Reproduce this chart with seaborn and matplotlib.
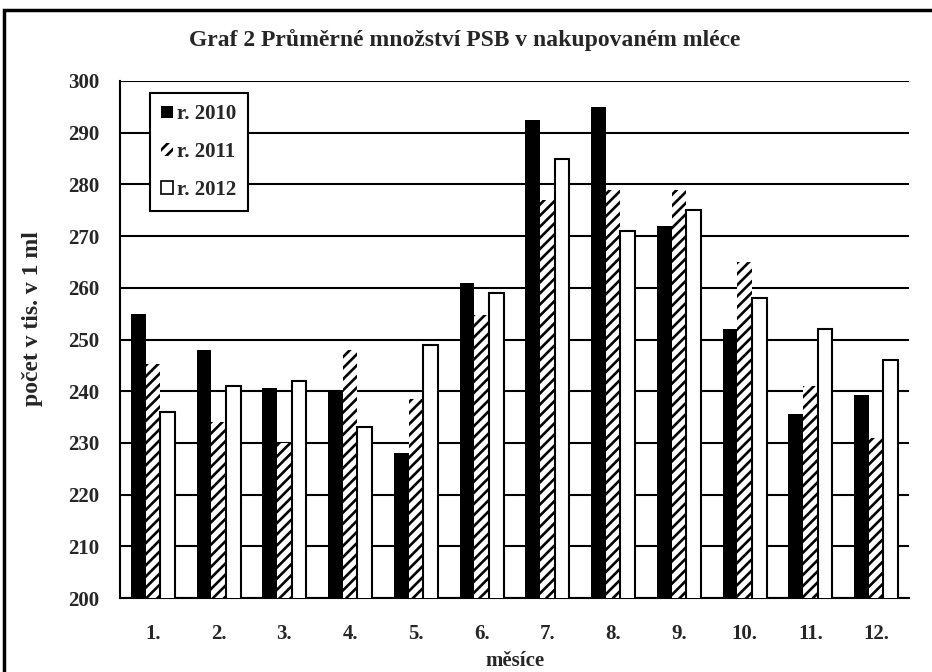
import matplotlib
matplotlib.use("Agg")
import matplotlib.pyplot as plt
from matplotlib.patches import Patch, Rectangle
import seaborn as sns
import pandas as pd

months = ["1.", "2.", "3.", "4.", "5.", "6.", "7.", "8.", "9.", "10.", "11.", "12."]
years = ["r. 2010", "r. 2011", "r. 2012"]
y2010 = [255, 248, 240.6, 240, 228, 261, 292.5, 295, 272, 252, 235.6, 239.3]
y2011 = [245.3, 234, 230, 248, 238.4, 254.7, 277, 279, 279, 265, 241, 231]
y2012 = [236, 241, 242, 233, 249, 259, 285, 271, 275, 258, 252, 246]
yticks = list(range(200, 301, 10))

title = "Graf 2 Průměrné množství PSB v nakupovaném mléce"
ylabel = "počet v tis. v 1 ml"
xlabel = "měsíce"

rows = []
for yr, vals in zip(years, [y2010, y2011, y2012]):
    for m, v in zip(months, vals):
        rows.append({"month": m, "value": v, "year": yr})
df = pd.DataFrame(rows)

sns.set_style("white")
plt.rcParams["font.family"] = ["Liberation Serif", "DejaVu Serif"]
plt.rcParams["font.weight"] = "bold"
plt.rcParams["axes.labelweight"] = "bold"
plt.rcParams["hatch.linewidth"] = 1.9
plt.rcParams["hatch.color"] = "black"

fig = plt.figure(figsize=(9.32, 6.72), dpi=100)
ax = fig.add_axes([120 / 932, 74 / 672, 789 / 932, 517 / 672])

sns.barplot(data=df, x="month", y="value", hue="year", order=months,
            hue_order=years, palette=["black", "white", "white"],
            edgecolor="black", linewidth=1.5, width=0.67, gap=0,
            legend=False, ax=ax, zorder=3)

styles = [dict(fc="black", lw=0, hatch=None),
          dict(fc="white", lw=0, hatch="///"),
          dict(fc="white", lw=1.5, hatch=None)]
for cont, st in zip(ax.containers, styles):
    for p in cont:
        p.set_facecolor(st["fc"])
        p.set_edgecolor("black")
        p.set_linewidth(st["lw"])
        if st["hatch"]:
            p.set_hatch(st["hatch"])

ax.set_ylim(200, 300)
ax.set_xlim(-0.5, len(months) - 0.5)
ax.set_yticks(yticks)
ax.set_yticklabels([str(t) for t in yticks], fontsize=15, fontweight="bold")
ax.set_xticks(range(len(months)))
ax.set_xticklabels(months, fontsize=15, fontweight="bold")
ax.set_xticks([i - 0.5 for i in range(len(months) + 1)], minor=True)
ax.tick_params(axis="x", which="major", length=0, pad=19)
ax.tick_params(axis="x", which="minor", length=4.5, width=1.5, direction="out", color="black")
ax.tick_params(axis="y", which="major", length=6, width=1.5, direction="inout", pad=12, color="black")

ax.set_axisbelow(True)
ax.yaxis.grid(True, color="black", linewidth=1.5)
ax.xaxis.grid(False)
for s in ["top", "right"]:
    ax.spines[s].set_visible(False)
for s in ["left", "bottom"]:
    ax.spines[s].set_color("black")
    ax.spines[s].set_linewidth(1.5)

ax.set_ylabel(ylabel, fontsize=17, fontweight="bold")
ax.yaxis.set_label_coords(-0.097, 0.54)
ax.set_xlabel(xlabel, fontsize=15, fontweight="bold")
ax.xaxis.set_label_coords(0.5, -0.102)

handles = [Patch(facecolor="black", edgecolor="black", linewidth=0),
           Patch(facecolor="white", edgecolor="black", linewidth=0, hatch="///"),
           Patch(facecolor="white", edgecolor="black", linewidth=1.2)]
leg = ax.legend(handles, years, loc="upper left", bbox_to_anchor=(0.038, 0.977),
                borderaxespad=0, fancybox=False, shadow=False, frameon=True,
                handlelength=0.55, handleheight=0.55, handletextpad=0.2,
                labelspacing=0.85, borderpad=0.55, prop={"size": 15, "weight": "bold"})
leg.get_frame().set_edgecolor("black")
leg.get_frame().set_linewidth(1.5)
leg.get_frame().set_alpha(1)

fig.text(0.499, 1 - 40 / 672, title, ha="center", va="center", fontsize=17, fontweight="bold")

frame = Rectangle((4 / 932, -0.2), 2.0, 0.2 + 1 - 10 / 672, transform=fig.transFigure,
                  fill=False, edgecolor="black", linewidth=2.5)
fig.patches.append(frame)

fig.savefig("out.png", dpi=100)
